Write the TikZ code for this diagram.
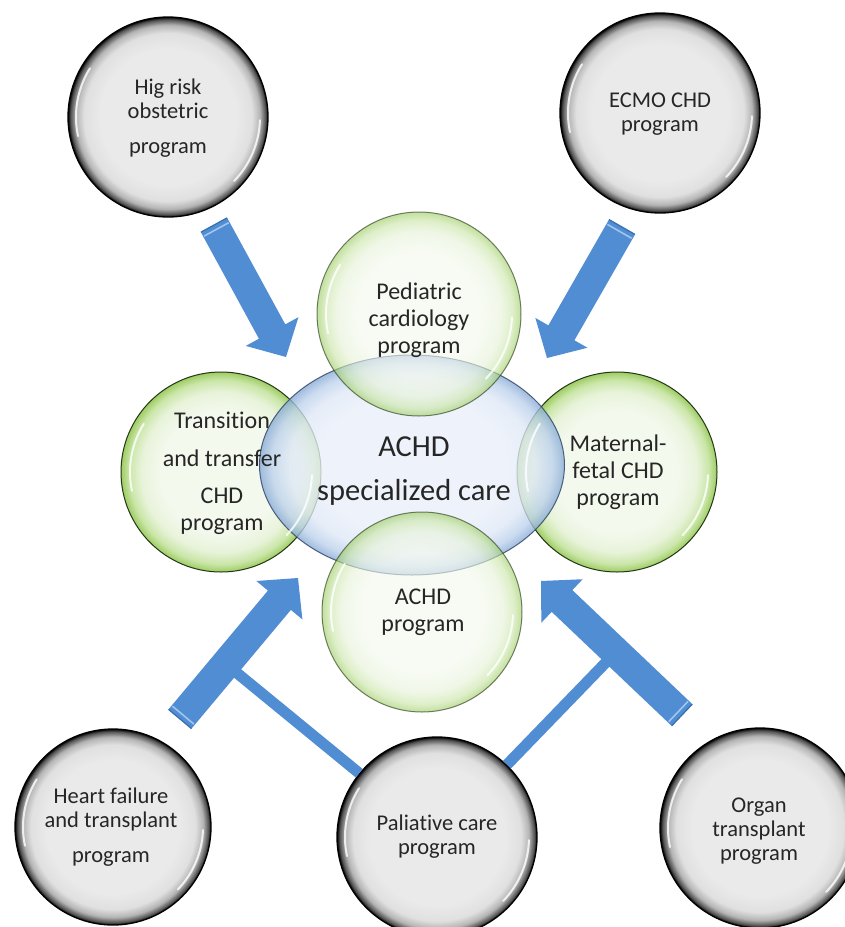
\documentclass[tikz,border=0pt]{standalone}
\usepackage{fontspec}
\setmainfont{Carlito}[Ligatures={NoCommon}]
\usetikzlibrary{shapes.geometric,calc}
\definecolor{arrowblue}{RGB}{80,141,211}
\definecolor{stripeblue}{RGB}{160,198,238}
\definecolor{tailblue}{RGB}{55,110,175}
\definecolor{txtgrey}{RGB}{38,38,38}
\definecolor{ballcen}{RGB}{234,234,234}
\definecolor{ballmid}{RGB}{224,224,224}
\definecolor{ballsh}{RGB}{180,180,180}
\definecolor{balldark}{RGB}{80,80,80}
\definecolor{grcen}{RGB}{244,249,238}
\definecolor{grmid}{RGB}{232,243,218}
\definecolor{grsh}{RGB}{202,230,168}
\definecolor{gredge}{RGB}{158,204,100}
\definecolor{grline}{RGB}{35,55,20}
\definecolor{blcen}{RGB}{234,240,250}
\definecolor{blmid}{RGB}{224,233,247}
\definecolor{blsh}{RGB}{188,209,236}
\definecolor{bledge}{RGB}{135,170,214}
\definecolor{blline}{RGB}{40,60,90}
\pgfdeclareradialshading{greyballsh}{\pgfpoint{0bp}{0bp}}{color(0bp)=(ballcen); color(17bp)=(ballcen); color(21bp)=(ballmid); color(23bp)=(ballsh); color(24.4bp)=(balldark); color(25bp)=(black); color(50bp)=(black)}
\pgfdeclareradialshading{greenballsh}{\pgfpoint{0bp}{0bp}}{color(0bp)=(grcen); color(15bp)=(grcen); color(20bp)=(grmid); color(23bp)=(grsh); color(25bp)=(gredge); color(50bp)=(gredge)}
\pgfdeclareradialshading{blueballsh}{\pgfpoint{0bp}{0bp}}{color(0bp)=(blcen); color(15bp)=(blcen); color(20bp)=(blmid); color(23bp)=(blsh); color(25bp)=(bledge); color(50bp)=(bledge)}
\newcommand\shinearcs[2]{%
  \draw[shine] ($(#1.center)+(168:#2)$) arc[start angle=168, end angle=212, radius=#2];
  \draw[shine] ($(#1.center)+(2:#2)$) arc[start angle=2, end angle=44, radius=#2];}
\newcommand\blockarrowdraw[1]{%
  \coordinate (#1b) at ($(#1p)!29pt!(#1t)$);
  \coordinate (#1m) at ($(#1t)!5pt!(#1p)$);
  \fill[arrowblue] ($(#1t)!15pt!90:(#1p)$) -- ($(#1b)!15pt!-90:(#1t)$) -- ($(#1b)!30pt!-90:(#1t)$) -- (#1p)
     -- ($(#1b)!30pt!90:(#1t)$) -- ($(#1b)!15pt!90:(#1t)$) -- ($(#1t)!15pt!-90:(#1p)$) -- cycle;
  \draw[tailblue, line width=1.2pt] ($(#1t)!15pt!90:(#1p)$) -- ($(#1t)!15pt!-90:(#1p)$);
  \draw[stripeblue, line width=1.6pt] ($(#1m)!14pt!90:(#1p)$) -- ($(#1m)!14pt!-90:(#1p)$);}
\begin{document}
\begin{tikzpicture}[x=1pt,y=-1pt,
  greyball/.style={circle, inner sep=0pt, minimum size=200pt, draw=black, line width=1.3pt, shade, shading=greyballsh},
  greenball/.style={circle, inner sep=0pt, minimum size=200pt, draw=grline, line width=1pt, shade, shading=greenballsh},
  coreball/.style={ellipse, inner sep=0pt, minimum width=305pt, minimum height=220pt, draw=blline, line width=1pt, shade, shading=blueballsh},
  shine/.style={white, line width=2pt, line cap=round, opacity=0.8},
  branch/.style={arrowblue, line width=11pt},
  greylbl/.style={align=center, text=txtgrey, font=\fontsize{22.5}{24}\selectfont},
  greenlbl/.style={align=center, text=txtgrey, font=\fontsize{24}{27}\selectfont},
  corelbl/.style={align=center, text=txtgrey, font=\fontsize{30.5}{35}\selectfont}]
\fill[white] (0,0) rectangle (845,927);
\useasboundingbox (0,0) rectangle (845,927);
% grey program circles
\node[greyball] (tl) at (168,117) {};
\node[greyball] (tr) at (660,113) {};
\node[greyball, minimum size=196pt] (bl) at (113,827) {};
\node[greyball] (bc) at (437,837) {};
\node[greyball] (br) at (760,828) {};
\shinearcs{tl}{92}
\shinearcs{tr}{92}
\shinearcs{bl}{90}
\shinearcs{bc}{92}
\shinearcs{br}{92}
% arrow coordinates
\coordinate (a1t) at (214,225); \coordinate (a1p) at (286,357);
\coordinate (a2t) at (622,227); \coordinate (a2p) at (547,358);
\coordinate (a3t) at (180,719); \coordinate (a3p) at (298,578);
\coordinate (a4t) at (682,715); \coordinate (a4p) at (541,581);
\coordinate (j3) at (226,664);
\coordinate (j4) at (616,652);
% branch lines to palliative care
\draw[branch] (j3) -- (bc);
\draw[branch] (j4) -- (bc);
% block arrows
\blockarrowdraw{a1}
\blockarrowdraw{a2}
\blockarrowdraw{a3}
\blockarrowdraw{a4}
% green circles and core
\node[greenball] (gl) at (221,472) {};
\node[greenball] (gr) at (617,472) {};
\node[coreball, opacity=0.78] (core) at (412,465) {};
\node[greenball, minimum size=204pt, opacity=0.62] (gt) at (419,314) {};
\node[greenball, opacity=0.62] (gb) at (422,612) {};
\shinearcs{gl}{91}
\shinearcs{gr}{91}
\shinearcs{gt}{93}
\shinearcs{gb}{91}
% texts
\node[greylbl] at (168,118) {Hig risk\\obstetric\\[11pt]program};
\node[greylbl] at (660,114) {ECMO CHD\\program};
\node[greylbl] at (111,827) {Heart failure\\and transplant\\[11pt]program};
\node[greylbl] at (437,837) {Paliative care\\program};
\node[greylbl] at (759,831) {Organ\\transplant\\program};
\node[greenlbl] at (419,320) {Pediatric\\cardiology\\program};
\node[greenlbl] at (222,473) {Transition\\[11pt]and transfer\\[10pt]CHD\\program};
\node[greenlbl] at (618,472) {Maternal-\\fetal CHD\\program};
\node[greenlbl] at (423,612) {ACHD\\program};
\node[corelbl] at (414,471) {ACHD\\[9pt]specialized care};
\end{tikzpicture}
\end{document}
